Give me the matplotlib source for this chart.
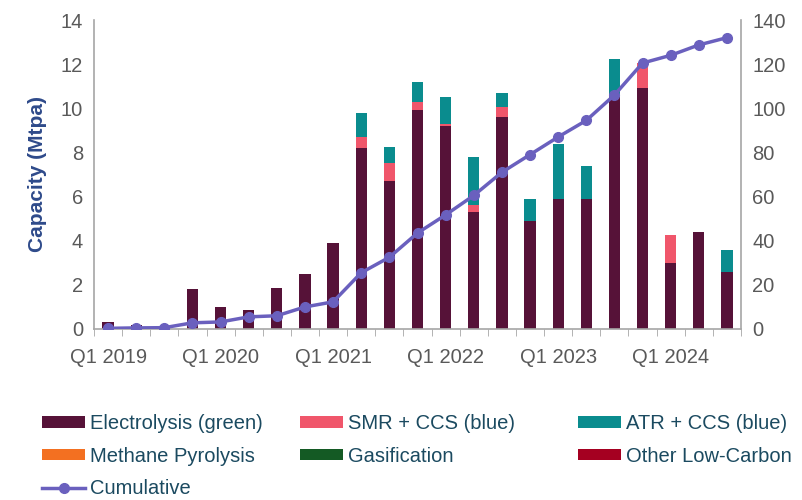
import matplotlib.pyplot as plt
import numpy as np

plt.rcParams['font.family'] = ['Liberation Sans', 'DejaVu Sans']

# quarterly capacity additions (Mtpa), Q1 2019 .. Q3 2024
quarters = [f"Q{q} {y}" for y in range(2019, 2025) for q in range(1, 5)][:23]
electrolysis = [0.3, 0.2, 0.1, 1.8, 1.0, 0.85, 1.85, 2.5, 3.9, 8.2, 6.7, 9.9,
                9.2, 5.3, 9.6, 4.9, 5.9, 5.9, 10.5, 10.9, 3.0, 4.4, 2.6]
smr_ccs = [0, 0, 0, 0, 0, 0, 0, 0, 0, 0.5, 0.8, 0.4,
           0.1, 0.3, 0.45, 0, 0, 0, 0, 1.15, 1.25, 0, 0]
atr_ccs = [0, 0, 0, 0, 0, 0, 0, 0, 0, 1.1, 0.75, 0.9,
           1.2, 2.2, 0.65, 1.0, 2.5, 1.5, 1.75, 0, 0, 0, 1.0]
methane_pyrolysis = [0] * 23
gasification = [0] * 23
other_low_carbon = [0] * 23
cumulative = [0.3, 0.5, 0.6, 2.8, 3.2, 5.5, 6.0, 10.0, 12.3, 25.5, 32.5, 43.5,
              51.7, 60.5, 71.0, 79.0, 87.0, 94.5, 106.0, 120.5, 124.0, 128.7, 132.0]

series = [
    ("Electrolysis (green)", electrolysis, "#561238"),
    ("SMR + CCS (blue)", smr_ccs, "#F0566B"),
    ("ATR + CCS (blue)", atr_ccs, "#0A8C8E"),
    ("Methane Pyrolysis", methane_pyrolysis, "#F37021"),
    ("Gasification", gasification, "#145A24"),
    ("Other Low-Carbon", other_low_carbon, "#A50021"),
]

tick_color = "#595959"
spine_color = "#A6A6A6"

fig = plt.figure(figsize=(8.02, 5), dpi=100)
ax = fig.add_axes([94 / 802, 1 - 329 / 500, (741 - 94) / 802, (329 - 20) / 500])

x = np.arange(len(quarters))
bottom = np.zeros(len(quarters))
handles = {}
for name, vals, color in series:
    vals = np.array(vals, dtype=float)
    bars = ax.bar(x, vals, width=0.4, bottom=bottom, color=color, label=name, zorder=2)
    handles[name] = bars
    bottom += vals

ax.set_xlim(-0.5, len(quarters) - 0.5)
ax.set_ylim(0, 14)
ax.set_yticks(range(0, 15, 2))
ax.set_xticks(x[::4])
ax.set_xticklabels(quarters[::4])
ax.set_xticks(np.arange(-0.5, len(quarters)), minor=True)
ax.tick_params(axis='x', which='major', length=0, pad=14, labelsize=14.5, labelcolor=tick_color)
ax.tick_params(axis='x', which='minor', length=5, color=spine_color, direction='out')
ax.tick_params(axis='y', length=0, pad=8, labelsize=14.5, labelcolor=tick_color)
ax.set_ylabel("Capacity (Mtpa)", fontsize=15, fontweight='bold', color="#2E4A8A", labelpad=10)

for side in ['top', 'right']:
    ax.spines[side].set_visible(False)
for side in ['left', 'bottom']:
    ax.spines[side].set_color(spine_color)
    ax.spines[side].set_linewidth(1.2)

ax2 = ax.twinx()
line, = ax2.plot(x, cumulative, color="#6A60BE", lw=2.5, marker='o', ms=7,
                 label="Cumulative", zorder=3)
ax2.set_ylim(0, 140)
ax2.set_yticks(range(0, 141, 20))
ax2.tick_params(axis='y', length=0, pad=8, labelsize=14.5, labelcolor=tick_color)
for side in ['top', 'left', 'bottom']:
    ax2.spines[side].set_visible(False)
ax2.spines['right'].set_color(spine_color)
ax2.spines['right'].set_linewidth(1.2)

# legend laid out as three separate columns
columns = [
    (42, ["Electrolysis (green)", "Methane Pyrolysis", "Cumulative"]),
    (300, ["SMR + CCS (blue)", "Gasification"]),
    (578, ["ATR + CCS (blue)", "Other Low-Carbon"]),
]
for xpos, names in columns:
    hs = [line if n == "Cumulative" else handles[n] for n in names]
    leg = fig.legend(hs, names, loc='upper left', bbox_to_anchor=(xpos / 802, 1 - 414 / 500),
                     frameon=False, fontsize=14.5, handlelength=2.15, handleheight=0.5,
                     handletextpad=0.25, labelspacing=0.68, borderpad=0, borderaxespad=0)
    for t in leg.get_texts():
        t.set_color("#1B4A60")

fig.savefig("out.png", dpi=100)
